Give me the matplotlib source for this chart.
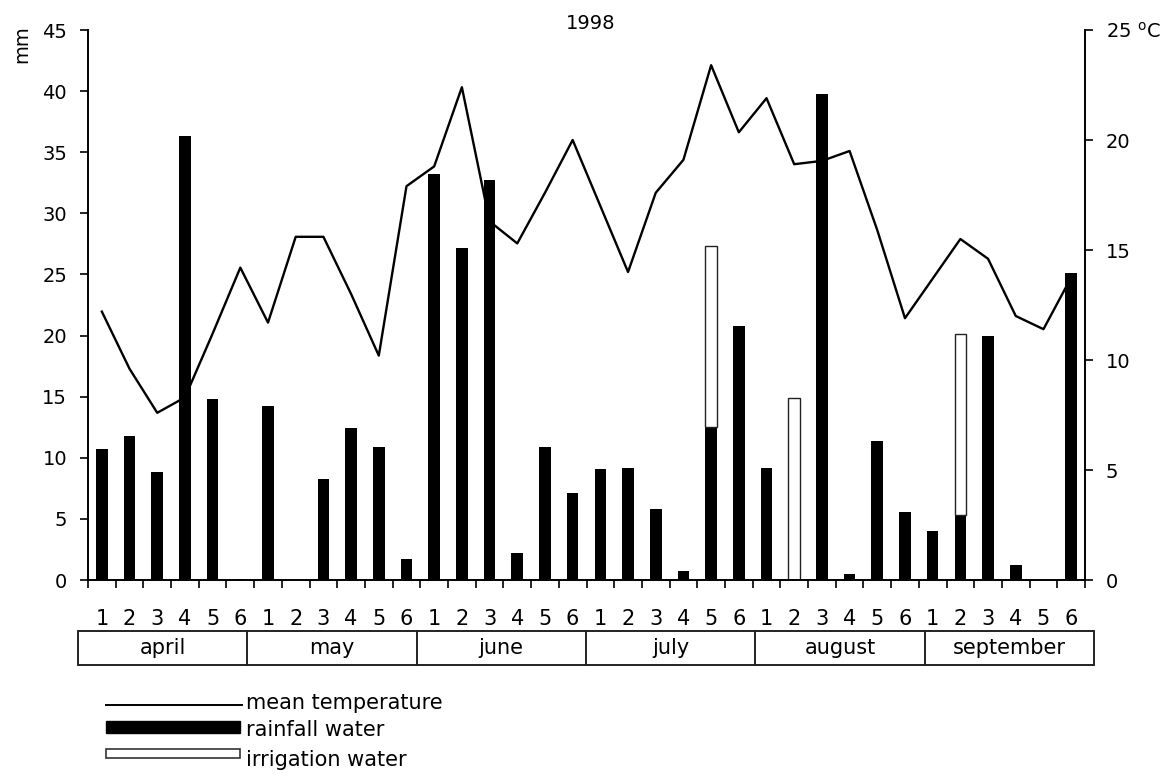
import matplotlib
matplotlib.use('Agg')
import matplotlib.pyplot as plt
from matplotlib.lines import Line2D
from matplotlib.patches import Rectangle
from matplotlib.transforms import blended_transform_factory
import numpy as np

months = ['april', 'may', 'june', 'july', 'august', 'september']
periods = ['1', '2', '3', '4', '5', '6']

# five-day periods, april 1 .. september 6
rainfall = [10.7, 11.8, 8.8, 36.3, 14.8, 0.1,
            14.2, 0.0, 8.3, 12.4, 10.9, 1.7,
            33.2, 27.2, 32.7, 2.2, 10.9, 7.1,
            9.1, 9.2, 5.8, 0.7, 12.5, 20.8,
            9.2, 0.0, 39.8, 0.5, 11.4, 5.6,
            4.0, 5.3, 20.0, 1.2, 0.0, 25.1]
irrigation = [0, 0, 0, 0, 0, 0,
              0, 0, 0, 0, 0, 0,
              0, 0, 0, 0, 0, 0,
              0, 0, 0, 0, 14.8, 0,
              0, 14.9, 0, 0, 0, 0,
              0, 14.8, 0, 0, 0, 0]
temperature = [12.2, 9.6, 7.6, 8.3, 11.2, 14.2,
               11.7, 15.6, 15.6, 13.0, 10.2, 17.9,
               18.8, 22.4, 16.3, 15.3, 17.6, 20.0,
               17.0, 14.0, 17.6, 19.1, 23.4, 20.35,
               21.9, 18.9, 19.05, 19.5, 15.9, 11.9,
               13.7, 15.5, 14.6, 12.0, 11.4, 13.75]

W, H = 1170, 776
fig = plt.figure(figsize=(W / 100, H / 100), dpi=100)

# axes box in pixels: x 88..1085, y 30..580
ax = fig.add_axes([88 / W, 1 - 580 / H, (1085 - 88) / W, 550 / H])
x = np.arange(len(rainfall))
bw = 0.42

ax.bar(x, rainfall, width=bw, color='black', zorder=2)
irr = np.array(irrigation)
mask = irr > 0
ax.bar(x[mask], irr[mask], width=bw, bottom=np.array(rainfall)[mask],
       facecolor='white', edgecolor='#222222', linewidth=1.0, zorder=2)

ax.set_xlim(-0.5, len(rainfall) - 0.5)
ax.set_ylim(0, 45)
ax.set_yticks(range(0, 46, 5))
ax.set_xticks(np.arange(-0.5, len(rainfall), 1.0))
ax.set_xticklabels([])
ax.tick_params(axis='x', direction='out', length=6, width=1.2)
ax.tick_params(axis='y', direction='out', length=6, width=1.2, labelsize=14, pad=9)
for s in ['top', 'right']:
    ax.spines[s].set_visible(False)
for s in ['left', 'bottom']:
    ax.spines[s].set_linewidth(1.4)

ax2 = ax.twinx()
ax2.plot(x, temperature, color='black', linewidth=1.7, zorder=3)
ax2.set_ylim(0, 25)
ax2.set_yticks(range(0, 26, 5))
ax2.set_yticklabels(['0', '5', '10', '15', '20', r'25 $^{\mathrm{o}}$C'])
ax2.tick_params(axis='y', direction='out', length=6, width=1.2, labelsize=14, pad=9)
for s in ['top', 'left', 'bottom']:
    ax2.spines[s].set_visible(False)
ax2.spines['right'].set_linewidth(1.4)

ax.text(-0.066, 0.975, 'mm', transform=ax.transAxes, rotation=90,
        fontsize=14, ha='center', va='center')
ax.text(0.504, 1.012, '1998', transform=ax.transAxes, fontsize=14,
        ha='center', va='center')

# period numbers and month box below the axis
tr = blended_transform_factory(ax.transData, ax.transAxes)
def ay(py):
    return (580 - py) / 550.0

for i in range(len(rainfall)):
    ax.text(x[i], ay(619), periods[i % 6], transform=tr, fontsize=15,
            ha='center', va='center', clip_on=False)

left_edge, right_edge = -0.86, 35.82
cell = (right_edge - left_edge) / len(months)
ax.add_patch(Rectangle((left_edge, ay(665)), right_edge - left_edge, ay(631) - ay(665),
                       transform=tr, fill=False, edgecolor='#222222', linewidth=1.4,
                       clip_on=False))
for k, m in enumerate(months):
    if k > 0:
        ax.add_line(Line2D([left_edge + k * cell] * 2, [ay(631), ay(665)], transform=tr,
                           color='#222222', linewidth=1.4, clip_on=False))
    ax.text(left_edge + (k + 0.5) * cell, ay(648), m, transform=tr, fontsize=15,
            ha='center', va='center', clip_on=False)

# legend drawn by hand, figure pixels
def fx(px):
    return px / W
def fy(py):
    return 1 - py / H

fig.add_artist(Line2D([fx(106), fx(242)], [fy(705), fy(705)], color='black',
                      linewidth=1.4, transform=fig.transFigure))
fig.add_artist(Rectangle((fx(106), fy(733)), fx(240) - fx(106), fy(721) - fy(733),
                         facecolor='black', edgecolor='black', transform=fig.transFigure))
fig.add_artist(Rectangle((fx(106), fy(758)), fx(240) - fx(106), fy(749) - fy(758),
                         facecolor='white', edgecolor='#333333', linewidth=1.2,
                         transform=fig.transFigure))
fig.text(fx(246), fy(703), 'mean temperature', fontsize=15, va='center')
fig.text(fx(246), fy(730), 'rainfall water', fontsize=15, va='center')
fig.text(fx(246), fy(760), 'irrigation water', fontsize=15, va='center')

fig.savefig('out.png', dpi=100)
